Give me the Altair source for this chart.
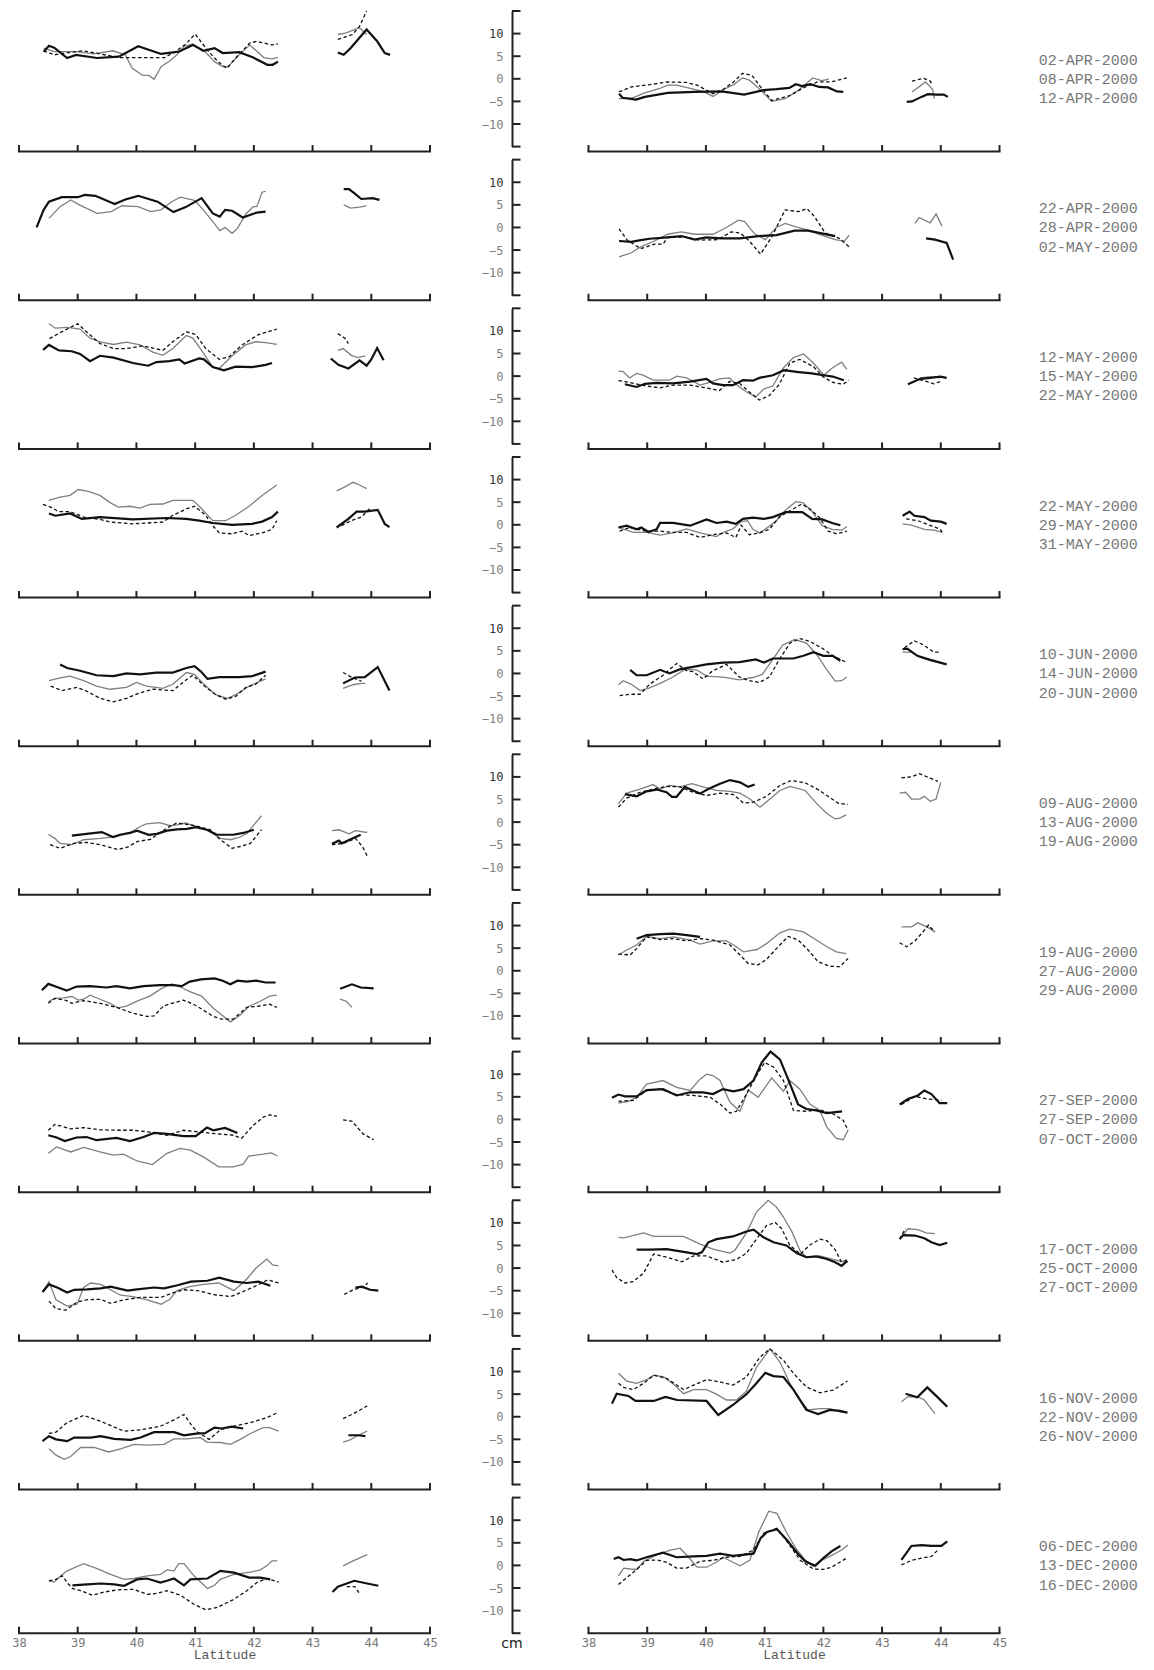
import altair as alt
import pandas as pd

# ------------------------------------------------------------------ data
LAT_TICKS = [38, 39, 40, 41, 42, 43, 44, 45]
CM_TICKS = [-10, -5, 0, 5, 10]
BRACKET_TICKS = [-15, -10, -5, 0, 5, 10, 15]

DATES = [
    ["02-APR-2000", "08-APR-2000", "12-APR-2000"],
    ["22-APR-2000", "28-APR-2000", "02-MAY-2000"],
    ["12-MAY-2000", "15-MAY-2000", "22-MAY-2000"],
    ["22-MAY-2000", "29-MAY-2000", "31-MAY-2000"],
    ["10-JUN-2000", "14-JUN-2000", "20-JUN-2000"],
    ["09-AUG-2000", "13-AUG-2000", "19-AUG-2000"],
    ["19-AUG-2000", "27-AUG-2000", "29-AUG-2000"],
    ["27-SEP-2000", "27-SEP-2000", "07-OCT-2000"],
    ["17-OCT-2000", "25-OCT-2000", "27-OCT-2000"],
    ["16-NOV-2000", "22-NOV-2000", "26-NOV-2000"],
    ["06-DEC-2000", "13-DEC-2000", "16-DEC-2000"],
]

# (latitude, cm) pairs; blk = thick black, gry = grey, dsh = dashed; _e = northern segment
# ---- row 1
r01L_blk = [(38.42,6.0),(38.51,7.3),(38.6,6.9),(38.82,4.6),(38.97,5.3),(39.33,4.6),(39.7,4.9),(40.03,7.2),(40.42,5.5),(40.72,6.0),(40.96,7.5),(41.14,6.2),(41.33,6.8),(41.47,5.7),(41.75,5.9),(41.99,4.7),(42.23,3.1),(42.32,3.1),(42.41,3.8)]
r01L_blk_e = [(43.43,5.8),(43.53,5.3),(43.65,6.8),(43.92,10.9),(44.1,8.3),(44.23,5.7),(44.32,5.3)]
r01L_gry = [(38.42,6.8),(38.6,6.0),(38.97,6.0),(39.27,5.5),(39.6,6.2),(39.81,5.3),(39.93,2.3),(40.1,0.8),(40.22,0.7),(40.3,-0.1),(40.42,2.7),(40.57,4.0),(40.69,5.3),(40.81,7.2),(40.96,7.7),(41.17,6.0),(41.33,3.8),(41.47,2.7),(41.56,2.7),(41.75,5.3),(41.93,7.5),(42.17,4.7),(42.3,4.4),(42.41,4.7)]
r01L_gry_e = [(43.43,9.8),(43.56,10.1),(43.8,11.3),(43.92,9.8)]
r01L_dsh = [(38.42,6.2),(38.6,5.3),(38.79,5.7),(39.09,6.2),(39.39,5.5),(39.69,4.7),(40.1,4.7),(40.48,4.7),(40.66,6.0),(40.84,7.7),(41.0,9.9),(41.23,6.0),(41.39,3.8),(41.54,2.3),(41.69,4.6),(41.93,7.9),(42.05,8.3),(42.3,7.5),(42.41,7.7)]
r01L_dsh_e = [(43.43,8.7),(43.68,9.8),(43.8,11.6),(43.92,15.0)]
r01R_blk = [(38.52,-3.3),(38.58,-4.2),(38.81,-4.6),(38.96,-4.0),(39.35,-3.1),(39.81,-2.9),(40.27,-2.8),(40.65,-3.5),(40.98,-2.5),(41.2,-2.3),(41.42,-2.0),(41.53,-1.2),(41.64,-1.6),(41.78,-1.2),(41.93,-1.8),(42.08,-1.9),(42.23,-2.8),(42.34,-2.9)]
r01R_blk_e = [(43.42,-5.1),(43.51,-5.0),(43.67,-4.0),(43.78,-3.4),(43.93,-3.5),(44.05,-3.5),(44.12,-4.0)]
r01R_gry = [(38.52,-4.4),(38.73,-4.3),(38.96,-3.1),(39.2,-2.2),(39.35,-1.4),(39.5,-1.4),(39.7,-2.0),(39.97,-2.9),(40.12,-3.9),(40.31,-2.3),(40.47,-1.3),(40.62,0.2),(40.74,-0.3),(40.89,-2.0),(41.12,-5.0),(41.35,-4.4),(41.58,-2.5),(41.82,0.2),(41.97,-0.4),(42.09,-0.1)]
r01R_gry_e = [(43.51,-2.9),(43.74,-0.7),(43.86,-2.3),(43.89,-4.4)]
r01R_dsh = [(38.52,-2.9),(38.73,-1.8),(39.04,-1.3),(39.35,-0.7),(39.66,-0.8),(39.85,-1.4),(40.12,-3.3),(40.31,-2.2),(40.47,-0.7),(40.62,1.2),(40.78,0.8),(40.93,-1.8),(41.12,-4.8),(41.43,-3.7),(41.66,-2.0),(41.9,-0.7),(42.13,-0.7),(42.4,0.2)]
r01R_dsh_e = [(43.51,-0.5),(43.71,0.1),(43.82,-0.5),(43.86,-1.4)]
# ---- row 2
r02L_blk = [(38.3,0.0),(38.42,3.9),(38.51,5.7),(38.73,6.7),(39.0,6.7),(39.12,7.2),(39.3,7.0),(39.63,5.2),(39.81,6.2),(40.03,7.0),(40.36,5.7),(40.63,3.4),(40.84,4.5),(41.11,6.5),(41.3,3.1),(41.42,2.4),(41.51,3.9),(41.63,3.7),(41.81,2.2),(42.05,3.3),(42.2,3.5)]
r02L_blk_e = [(43.53,8.5),(43.62,8.5),(43.71,7.6),(43.83,6.3),(44.02,6.5),(44.14,6.1)]
r02L_gry = [(38.51,2.0),(38.7,4.6),(38.88,6.1),(39.03,5.0),(39.33,3.1),(39.57,3.5),(39.75,4.8),(40.03,4.6),(40.24,3.5),(40.42,3.9),(40.6,5.7),(40.75,6.7),(40.99,6.0),(41.14,3.9),(41.3,1.3),(41.42,-0.7),(41.51,0.0),(41.63,-1.3),(41.72,-0.2),(41.87,3.1),(41.99,4.6),(42.05,4.6),(42.14,7.8),(42.2,8.0)]
r02L_gry_e = [(43.53,5.0),(43.65,4.3),(43.8,4.5),(43.92,4.8)]
r02L_dsh = []
r02L_dsh_e = []
r02R_blk = [(38.52,-3.0),(38.73,-3.2),(38.89,-2.8),(39.04,-2.5),(39.35,-2.2),(39.58,-1.9),(39.81,-2.7),(40.0,-2.2),(40.27,-2.4),(40.58,-2.4),(40.89,-1.9),(41.2,-1.7),(41.51,-0.7),(41.74,-0.7),(41.97,-1.3),(42.2,-1.9)]
r02R_blk_e = [(43.75,-2.4),(43.9,-2.7),(44.1,-3.4),(44.21,-7.1)]
r02R_gry = [(38.52,-6.5),(38.73,-5.6),(38.89,-4.3),(39.12,-3.0),(39.35,-1.5),(39.58,-1.0),(39.81,-1.5),(40.12,-1.5),(40.35,0.0),(40.55,1.6),(40.66,1.3),(40.82,-1.3),(41.01,-2.7),(41.2,0.0),(41.35,0.9),(41.55,0.1),(41.74,-0.6),(41.97,-1.7),(42.2,-2.7),(42.36,-3.0),(42.44,-1.7)]
r02R_gry_e = [(43.56,0.9),(43.63,2.2),(43.82,1.0),(43.92,3.0),(44.02,0.3)]
r02R_dsh = [(38.52,-0.3),(38.66,-2.8),(38.89,-4.7),(39.12,-3.7),(39.27,-3.7),(39.35,-2.1),(39.66,-2.2),(39.89,-2.8),(40.2,-2.7),(40.43,-1.0),(40.58,-1.2),(40.74,-3.0),(40.93,-5.9),(41.12,-2.1),(41.35,3.9),(41.58,3.5),(41.72,4.2),(41.85,2.4),(42.03,-1.2),(42.27,-2.4),(42.44,-4.3)]
r02R_dsh_e = []
# ---- row 3
r03L_blk = [(38.41,5.8),(38.51,6.9),(38.68,5.7),(38.9,5.5),(39.04,4.9),(39.21,3.3),(39.38,4.5),(39.61,4.1),(39.94,2.9),(40.2,2.3),(40.34,3.1),(40.56,3.3),(40.73,3.7),(40.82,2.8),(41.07,3.9),(41.15,3.7),(41.3,2.0),(41.49,1.3),(41.69,2.1),(41.97,2.0),(42.2,2.5),(42.31,2.9)]
r03L_blk_e = [(43.31,3.9),(43.44,2.5),(43.61,1.7),(43.8,3.5),(43.92,2.3),(44.0,3.7),(44.1,6.2),(44.21,3.5)]
r03L_gry = [(38.51,11.6),(38.62,10.6),(38.82,10.8),(39.04,10.4),(39.21,8.4),(39.38,7.6),(39.61,7.0),(39.83,7.5),(40.06,6.9),(40.28,5.3),(40.45,4.6),(40.62,6.1),(40.85,9.0),(40.96,8.4),(41.13,5.3),(41.3,2.0),(41.41,1.7),(41.63,4.5),(41.86,6.9),(42.03,7.6),(42.2,7.4),(42.39,7.0)]
r03L_gry_e = [(43.43,5.7),(43.52,6.1),(43.66,4.6),(43.77,4.1),(43.9,4.5)]
r03L_dsh = [(38.52,8.3),(38.7,9.6),(39.0,11.6),(39.15,9.8),(39.38,7.2),(39.61,6.1),(39.83,6.1),(40.11,6.7),(40.45,5.7),(40.62,7.6),(40.85,9.8),(41.01,9.2),(41.18,6.1),(41.41,3.7),(41.58,4.3),(41.8,6.9),(42.08,9.2),(42.39,10.4)]
r03L_dsh_e = [(43.43,9.4),(43.55,8.4),(43.61,7.2)]
r03R_blk = [(38.62,-1.8),(38.82,-2.4),(38.96,-1.7),(39.16,-1.5),(39.44,-1.6),(39.73,-1.2),(40.01,-0.6),(40.12,-1.6),(40.29,-2.0),(40.46,-2.0),(40.63,-0.9),(40.8,-1.0),(40.91,-0.4),(41.14,0.2),(41.33,1.3),(41.58,0.9),(41.8,0.6),(42.0,0.2),(42.16,-0.1),(42.35,-0.9)]
r03R_blk_e = [(43.44,-1.8),(43.65,-0.6),(43.82,-0.4),(43.99,-0.1),(44.1,-0.4)]
r03R_gry = [(38.51,1.1),(38.59,1.0),(38.7,-0.4),(38.82,0.6),(38.93,0.2),(39.1,-0.9),(39.22,-0.9),(39.38,-0.9),(39.5,0.0),(39.67,-0.4),(39.9,-2.0),(40.06,-1.4),(40.23,-0.6),(40.4,-0.4),(40.51,-1.8),(40.68,-3.4),(40.85,-4.6),(40.99,-2.8),(41.14,-2.2),(41.31,1.7),(41.49,4.1),(41.66,4.9),(41.83,2.9),(42.01,0.2),(42.14,1.7),(42.31,3.1),(42.4,1.5)]
r03R_gry_e = [(43.65,-0.4),(43.82,-0.1),(43.99,-0.4)]
r03R_dsh = [(38.51,-1.0),(38.7,-1.4),(38.99,-2.2),(39.22,-2.6),(39.44,-2.0),(39.73,-2.0),(40.01,-2.6),(40.23,-3.2),(40.4,-1.2),(40.57,-1.6),(40.74,-3.5),(40.91,-5.3),(41.08,-4.3),(41.25,-1.8),(41.43,2.9),(41.6,3.7),(41.83,2.1),(41.99,-0.1),(42.16,-1.4),(42.34,-1.8),(42.43,-0.9)]
r03R_dsh_e = [(43.54,-0.4),(43.71,-1.0),(43.88,-1.7),(43.99,-1.2)]
# ---- row 4
r04L_blk = [(38.51,2.5),(38.62,2.0),(38.87,2.5),(39.07,1.3),(39.38,1.7),(39.94,1.2),(40.51,1.5),(40.85,1.3),(41.07,0.9),(41.3,0.4),(41.63,0.0),(41.97,0.2),(42.14,0.7),(42.31,1.7),(42.41,2.9)]
r04L_blk_e = [(43.41,-0.6),(43.61,1.3),(43.75,2.9),(43.89,2.9),(44.11,3.3),(44.23,0.2),(44.31,-0.5)]
r04L_gry = [(38.51,5.4),(38.7,6.1),(38.87,6.5),(39.01,7.8),(39.18,7.4),(39.38,6.5),(39.55,4.9),(39.69,3.9),(39.89,4.1),(40.06,3.7),(40.23,4.5),(40.45,4.6),(40.62,5.4),(40.96,5.4),(41.07,4.1),(41.3,0.9),(41.52,0.9),(41.69,2.1),(41.92,4.1),(42.14,6.5),(42.39,8.8)]
r04L_gry_e = [(43.41,7.5),(43.55,8.4),(43.69,9.4),(43.8,8.8),(43.92,8.0)]
r04L_dsh = [(38.41,4.5),(38.54,3.9),(38.68,2.9),(38.87,2.9),(39.1,1.7),(39.38,1.2),(39.55,0.6),(39.94,0.2),(40.45,0.6),(40.62,2.1),(40.85,3.5),(40.99,4.1),(41.18,2.1),(41.3,-0.2),(41.41,-1.8),(41.63,-2.0),(41.8,-1.4),(41.92,-2.4),(42.14,-1.8),(42.31,-1.0),(42.39,0.9)]
r04L_dsh_e = [(43.49,-0.2),(43.66,0.9),(43.83,1.7),(44.0,3.9)]
r04R_blk = [(38.51,-0.6),(38.65,-0.2),(38.82,-1.0),(38.9,-0.6),(39.02,-1.6),(39.16,-1.0),(39.22,0.4),(39.44,0.4),(39.73,-0.2),(40.01,1.2),(40.18,0.4),(40.35,0.7),(40.51,0.2),(40.63,1.3),(40.8,1.6),(40.99,1.3),(41.14,1.7),(41.36,2.8),(41.64,2.8),(41.81,1.3),(41.98,1.2),(42.15,0.4),(42.29,-0.1)]
r04R_blk_e = [(43.35,2.0),(43.47,2.9),(43.55,2.0),(43.72,1.7),(43.83,0.9),(44.0,0.7),(44.1,0.2)]
r04R_gry = [(38.51,-0.6),(38.76,-1.7),(38.99,-1.7),(39.22,-2.3),(39.44,-1.8),(39.67,-0.9),(39.9,-1.8),(40.18,-2.6),(40.29,-1.7),(40.46,-0.9),(40.6,0.7),(40.71,0.9),(40.8,-1.0),(40.91,-1.8),(41.02,-0.9),(41.2,0.9),(41.36,3.3),(41.53,5.1),(41.65,4.9),(41.81,2.9),(41.98,-0.2),(42.15,-1.0),(42.32,-1.2),(42.4,-0.4)]
r04R_gry_e = [(43.35,0.2),(43.5,-0.1),(43.72,-1.0),(43.88,-1.2),(44.02,-1.6)]
r04R_dsh = [(38.53,-1.4),(38.7,-0.6),(38.99,-1.4),(39.22,-1.4),(39.44,-1.7),(39.67,-1.7),(39.9,-2.8),(40.12,-2.2),(40.35,-1.8),(40.51,-2.8),(40.6,-0.1),(40.74,-2.2),(40.91,-1.8),(41.08,-1.0),(41.25,1.7),(41.43,3.1),(41.63,4.6),(41.77,3.5),(41.94,1.5),(42.08,-1.4),(42.23,-2.0),(42.4,-1.4)]
r04R_dsh_e = [(43.41,1.3),(43.61,0.9),(43.83,-0.2),(43.99,-1.0),(44.05,-2.2)]
# ---- row 5
r05L_blk = [(38.7,2.0),(38.82,1.2),(39.04,0.6),(39.32,-0.4),(39.61,-0.6),(39.83,0.0),(40.06,-0.2),(40.34,0.2),(40.62,0.2),(40.85,1.2),(40.99,1.6),(41.1,0.4),(41.21,-1.2),(41.41,-0.8),(41.75,-0.8),(41.97,-0.6),(42.2,0.4)]
r05L_blk_e = [(43.52,-2.2),(43.72,-0.9),(43.89,-0.8),(44.11,1.4),(44.31,-3.8)]
r05L_gry = [(38.51,-1.6),(38.7,-1.0),(38.87,-0.6),(39.1,-1.6),(39.32,-2.8),(39.55,-3.5),(39.83,-3.1),(40.0,-2.0),(40.17,-2.8),(40.45,-3.3),(40.62,-2.4),(40.85,0.2),(40.99,-0.2),(41.18,-2.8),(41.35,-4.7),(41.55,-5.5),(41.69,-4.7),(41.92,-2.8),(42.2,-1.2)]
r05L_gry_e = [(43.52,-3.3),(43.69,-2.5),(43.83,-2.2),(43.9,-2.2)]
r05L_dsh = [(38.54,-2.8),(38.73,-3.8),(38.99,-3.1),(39.15,-3.9),(39.38,-5.5),(39.61,-6.3),(39.83,-5.5),(40.06,-4.3),(40.28,-3.5),(40.62,-3.8),(40.85,-1.4),(40.96,-0.4),(41.18,-3.0),(41.35,-4.7),(41.52,-5.7),(41.69,-5.1),(41.86,-3.1),(42.03,-2.4),(42.2,-0.4)]
r05L_dsh_e = [(43.52,0.2),(43.66,-0.8),(43.83,-1.7)]
r05R_blk = [(38.71,0.8),(38.82,-0.4),(38.99,-0.4),(39.22,0.8),(39.38,0.0),(39.55,0.9),(40.01,2.0),(40.29,2.4),(40.57,2.5),(40.85,3.1),(40.99,2.4),(41.14,3.3),(41.49,3.3),(41.66,3.9),(41.83,4.7),(42.0,3.9),(42.16,3.9),(42.29,2.8)]
r05R_blk_e = [(43.35,5.4),(43.43,5.5),(43.6,3.9),(43.82,3.0),(43.99,2.4),(44.1,2.0)]
r05R_gry = [(38.51,-2.5),(38.59,-1.6),(38.73,-2.4),(38.88,-3.8),(39.02,-3.3),(39.22,-2.2),(39.44,-0.8),(39.64,0.9),(39.84,0.8),(40.01,-0.6),(40.29,-0.8),(40.57,-1.4),(40.8,-0.9),(40.96,-0.2),(41.14,3.1),(41.31,6.3),(41.51,7.5),(41.71,6.7),(41.88,4.3),(42.04,1.2),(42.2,-1.7),(42.31,-1.6),(42.4,-0.8)]
r05R_gry_e = [(43.35,4.7),(43.5,4.7),(43.67,3.5),(43.84,2.8),(43.99,2.4)]
r05R_dsh = [(38.53,-4.9),(38.7,-4.6),(38.88,-4.6),(39.04,-2.4),(39.27,-0.4),(39.5,2.2),(39.67,0.6),(39.78,0.4),(39.95,-1.2),(40.12,0.6),(40.35,2.0),(40.57,-0.8),(40.74,-1.6),(40.91,-2.0),(41.08,-0.8),(41.25,3.1),(41.43,6.7),(41.6,7.7),(41.77,7.1),(41.99,5.5),(42.16,3.9),(42.4,2.4)]
r05R_dsh_e = [(43.38,5.7),(43.55,7.2),(43.71,6.3),(43.88,4.7),(43.99,4.7)]
# ---- row 6
r06L_blk = [(38.9,-3.0),(39.15,-2.6),(39.41,-2.2),(39.6,-3.3),(39.72,-2.8),(39.89,-2.4),(40.01,-1.9),(40.21,-2.8),(40.35,-2.6),(40.52,-1.9),(40.69,-1.6),(40.86,-1.5),(41.01,-1.1),(41.2,-1.7),(41.37,-2.8),(41.65,-2.8),(41.82,-2.4),(42.0,-1.7)]
r06L_blk_e = [(43.33,-4.8),(43.45,-4.1),(43.5,-4.7),(43.65,-3.8),(43.82,-2.8)]
r06L_gry = [(38.5,-2.7),(38.61,-3.6),(38.7,-4.7),(38.9,-5.0),(39.1,-3.9),(39.38,-3.6),(39.66,-3.2),(39.89,-2.3),(40.09,-0.8),(40.17,-0.4),(40.4,-0.1),(40.57,-0.8),(40.69,-0.6),(40.83,-0.2),(41.03,-1.0),(41.2,-1.7),(41.43,-3.6),(41.6,-3.9),(41.77,-3.3),(41.89,-2.4),(42.0,-0.6),(42.13,1.4)]
r06L_gry_e = [(43.33,-1.9),(43.45,-1.7),(43.62,-2.6),(43.73,-1.9),(43.93,-2.3)]
r06L_dsh = [(38.53,-5.0),(38.7,-5.8),(38.93,-4.7),(39.15,-4.5),(39.38,-5.0),(39.55,-5.6),(39.69,-6.1),(39.87,-5.4),(40.01,-4.3),(40.24,-3.8),(40.35,-2.8),(40.52,-1.3),(40.69,-0.2),(40.92,-0.6),(41.09,-1.1),(41.26,-1.7),(41.43,-3.9),(41.63,-5.8),(41.77,-5.4),(41.94,-4.7),(42.13,-1.7)]
r06L_dsh_e = [(43.33,-5.0),(43.53,-4.7),(43.73,-3.6),(43.85,-5.4),(43.93,-7.5)]
r06R_blk = [(38.62,6.2),(38.82,5.7),(38.99,6.8),(39.16,7.2),(39.33,6.6),(39.42,5.6),(39.5,5.6),(39.64,7.8),(39.78,7.0),(39.9,6.3),(40.04,7.3),(40.24,8.5),(40.41,9.3),(40.58,8.8),(40.72,7.8),(40.83,8.3)]
r06R_blk_e = []
r06R_gry = [(38.51,4.1),(38.65,6.4),(38.88,7.3),(39.1,8.3),(39.22,7.3),(39.39,8.1),(39.56,7.8),(39.76,8.5),(39.95,7.8),(40.18,7.0),(40.41,6.8),(40.58,6.4),(40.75,5.1),(40.92,3.3),(41.09,5.1),(41.26,7.0),(41.43,7.9),(41.69,7.0),(41.88,4.2),(42.06,1.9),(42.2,0.7),(42.28,0.9),(42.39,1.6)]
r06R_gry_e = [(43.3,6.4),(43.4,6.6),(43.5,5.1),(43.64,5.1),(43.72,5.7),(43.82,4.6),(43.92,5.1),(44.0,8.8)]
r06R_dsh = [(38.51,3.3),(38.65,5.3),(38.88,6.6),(39.1,7.3),(39.33,7.9),(39.56,7.8),(39.78,6.6),(40.01,5.9),(40.24,6.4),(40.47,6.1),(40.64,4.2),(40.81,4.4),(41.03,5.7),(41.26,8.1),(41.45,9.2),(41.69,8.7),(41.91,7.2),(42.08,5.7),(42.25,4.2),(42.42,3.9)]
r06R_dsh_e = [(43.33,9.8),(43.5,10.0),(43.64,10.7),(43.84,9.6),(43.95,9.0)]
# ---- row 7
r07L_blk = [(38.39,-4.3),(38.5,-2.9),(38.67,-3.7),(38.81,-4.4),(38.98,-3.5),(39.21,-3.4),(39.49,-3.7),(39.66,-3.4),(39.89,-3.9),(40.12,-3.4),(40.4,-3.2),(40.63,-3.2),(40.77,-3.4),(40.91,-2.4),(41.1,-1.9),(41.33,-1.7),(41.47,-2.2),(41.6,-3.0),(41.72,-2.2),(41.88,-2.4),(42.04,-2.2),(42.2,-2.6),(42.37,-2.6)]
r07L_blk_e = [(43.47,-4.0),(43.67,-3.0),(43.82,-3.7),(44.04,-3.9)]
r07L_gry = [(38.5,-6.8),(38.61,-6.1),(38.76,-6.0),(38.9,-5.7),(39.01,-6.5),(39.1,-6.3),(39.21,-5.4),(39.38,-6.3),(39.55,-7.2),(39.69,-8.2),(39.83,-7.8),(40.03,-6.6),(40.23,-5.6),(40.43,-3.9),(40.6,-2.9),(40.77,-3.7),(40.91,-4.6),(41.11,-5.6),(41.31,-8.3),(41.6,-11.3),(41.77,-9.8),(41.91,-7.9),(42.1,-6.8),(42.27,-5.6),(42.39,-5.4)]
r07L_gry_e = [(43.47,-6.3),(43.58,-6.8),(43.67,-8.1)]
r07L_dsh = [(38.5,-7.2),(38.61,-6.1),(38.81,-6.6),(38.9,-7.2),(39.1,-6.6),(39.38,-7.2),(39.66,-8.1),(39.94,-9.4),(40.18,-10.1),(40.3,-10.0),(40.46,-7.8),(40.63,-7.1),(40.8,-6.5),(40.97,-7.4),(41.14,-8.7),(41.31,-10.1),(41.45,-10.7),(41.65,-10.7),(41.88,-8.1),(42.1,-7.8),(42.27,-7.4),(42.39,-8.1)]
r07L_dsh_e = []
r07R_blk = [(38.82,7.1),(38.99,7.9),(39.22,8.1),(39.45,8.2),(39.67,7.9),(39.9,7.5)]
r07R_blk_e = []
r07R_gry = [(38.51,3.5),(38.65,4.6),(38.82,5.7),(38.99,7.6),(39.22,7.1),(39.45,7.5),(39.73,6.8),(39.9,5.9),(40.12,6.6),(40.35,6.6),(40.47,5.7),(40.64,4.2),(40.87,4.7),(41.03,6.0),(41.26,8.4),(41.43,9.2),(41.66,8.6),(41.88,6.8),(42.06,5.3),(42.22,4.2),(42.39,3.8)]
r07R_gry_e = [(43.33,9.7),(43.5,9.7),(43.61,10.6),(43.78,9.6),(43.9,8.6)]
r07R_dsh = [(38.51,3.7),(38.71,3.5),(38.82,4.9),(38.99,7.5),(39.22,6.9),(39.45,7.1),(39.67,6.6),(39.9,7.1),(40.12,6.8),(40.41,5.7),(40.58,3.5),(40.72,1.6),(40.89,1.3),(41.03,2.5),(41.2,4.9),(41.4,7.6),(41.57,6.8),(41.74,4.6),(41.91,2.0),(42.11,1.0),(42.28,0.9),(42.42,2.7)]
r07R_dsh_e = [(43.3,6.2),(43.42,5.3),(43.56,6.6),(43.71,8.8),(43.79,10.1),(43.9,8.6)]
# ---- row 8
r08L_blk = [(38.5,-3.5),(38.64,-4.0),(38.78,-4.8),(38.98,-4.0),(39.15,-3.9),(39.32,-4.6),(39.66,-4.1),(39.89,-4.8),(40.12,-3.9),(40.3,-3.0),(40.52,-3.2),(40.8,-3.7),(41.01,-3.7),(41.2,-1.8),(41.31,-2.4),(41.51,-1.9),(41.72,-3.0)]
r08L_blk_e = []
r08L_gry = [(38.5,-7.5),(38.64,-6.1),(38.88,-7.2),(39.1,-6.2),(39.38,-7.2),(39.61,-7.9),(39.78,-7.7),(40.01,-9.2),(40.27,-10.0),(40.52,-7.5),(40.74,-6.4),(40.92,-6.8),(41.14,-8.3),(41.4,-10.5),(41.65,-10.5),(41.82,-9.9),(41.91,-8.1),(42.16,-7.7),(42.3,-7.4),(42.4,-8.1)]
r08L_gry_e = []
r08L_dsh = [(38.5,-2.4),(38.61,-1.1),(38.88,-2.1),(39.1,-1.8),(39.38,-2.3),(39.66,-2.4),(39.94,-2.4),(40.23,-2.8),(40.52,-3.5),(40.8,-2.4),(41.09,-2.8),(41.37,-3.2),(41.65,-3.5),(41.79,-4.2),(41.99,-1.3),(42.16,0.5),(42.27,1.0),(42.39,0.7)]
r08L_dsh_e = [(43.52,-0.1),(43.67,-0.4),(43.86,-3.2),(44.04,-4.5)]
r08R_blk = [(38.4,4.8),(38.51,5.5),(38.62,5.1),(38.82,5.1),(38.99,6.5),(39.27,6.7),(39.5,5.3),(39.73,6.0),(39.95,6.0),(40.12,5.6),(40.29,6.7),(40.47,6.2),(40.64,6.7),(40.81,8.6),(40.95,12.6),(41.1,15.0),(41.26,13.3),(41.4,8.9),(41.57,3.3),(41.71,2.3),(41.88,2.0),(42.06,1.4),(42.32,1.8)]
r08R_blk_e = [(43.3,3.3),(43.44,4.5),(43.61,5.3),(43.72,6.4),(43.84,5.6),(43.98,3.6),(44.11,3.6)]
r08R_gry = [(38.51,3.6),(38.68,4.0),(38.82,4.9),(38.99,7.8),(39.27,8.6),(39.5,7.1),(39.73,6.4),(39.9,8.9),(40.01,10.0),(40.12,9.7),(40.24,8.6),(40.41,3.8),(40.58,1.8),(40.72,6.5),(40.89,4.9),(41.12,9.2),(41.32,6.2),(41.43,8.6),(41.6,6.7),(41.77,3.4),(41.94,2.0),(42.06,-1.7),(42.22,-4.2),(42.34,-4.5),(42.42,-2.4)]
r08R_gry_e = []
r08R_dsh = [(38.51,4.0),(38.76,4.2),(38.99,6.4),(39.22,6.7),(39.5,5.5),(39.78,5.3),(40.07,4.9),(40.24,3.4),(40.41,1.4),(40.52,1.8),(40.69,5.6),(40.86,9.7),(41.0,12.6),(41.15,11.6),(41.32,8.6),(41.49,2.0),(41.71,1.8),(41.94,2.1),(42.17,1.2),(42.34,-0.2),(42.42,-2.4)]
r08R_dsh_e = [(43.33,3.3),(43.56,5.1),(43.78,4.5),(44.01,4.3)]
# ---- row 9
r09L_blk = [(38.4,-5.3),(38.51,-3.6),(38.65,-4.3),(38.82,-5.4),(38.94,-4.8),(39.16,-4.7),(39.39,-4.5),(39.56,-4.1),(39.85,-5.0),(40.01,-4.7),(40.3,-4.3),(40.47,-4.5),(40.7,-3.8),(40.93,-3.0),(41.21,-2.8),(41.41,-2.1),(41.66,-3.0),(41.88,-3.3),(42.08,-3.0),(42.28,-3.9)]
r09L_blk_e = [(43.73,-4.3),(43.84,-4.1),(43.98,-4.8),(44.12,-5.0)]
r09L_gry = [(38.43,-4.7),(38.51,-3.0),(38.63,-7.0),(38.82,-8.4),(38.99,-8.0),(39.1,-4.3),(39.22,-3.3),(39.39,-3.6),(39.73,-6.0),(39.94,-6.3),(40.17,-7.0),(40.42,-8.0),(40.57,-6.9),(40.69,-5.0),(40.91,-4.1),(41.14,-3.6),(41.4,-3.3),(41.66,-5.0),(41.88,-2.4),(42.03,-0.1),(42.22,2.0),(42.32,0.7),(42.42,0.5)]
r09L_gry_e = []
r09L_dsh = [(38.51,-7.3),(38.63,-9.0),(38.8,-9.3),(38.99,-7.5),(39.16,-7.0),(39.39,-6.9),(39.56,-7.8),(39.79,-7.0),(40.07,-6.5),(40.41,-6.5),(40.64,-5.4),(40.81,-4.8),(41.05,-5.0),(41.33,-5.9),(41.61,-6.3),(41.78,-5.4),(42.01,-4.1),(42.24,-2.6),(42.42,-3.3)]
r09L_dsh_e = [(43.54,-5.8),(43.71,-4.7),(43.85,-4.3),(43.94,-3.3)]
r09R_blk = [(38.82,4.1),(39.05,4.1),(39.33,4.2),(39.62,3.6),(39.85,3.1),(39.93,3.5),(40.04,5.7),(40.18,6.4),(40.46,7.0),(40.69,8.1),(40.81,8.5),(40.98,6.8),(41.15,5.7),(41.37,5.0),(41.55,3.3),(41.71,2.4),(41.88,2.6),(42.06,2.0),(42.2,1.3),(42.31,0.5),(42.41,1.6)]
r09R_blk_e = [(43.3,6.4),(43.36,7.3),(43.56,7.2),(43.72,6.6),(43.84,5.7),(43.98,5.1),(44.11,5.6)]
r09R_gry = [(38.51,6.8),(38.6,6.7),(38.94,7.8),(39.11,7.0),(39.33,7.0),(39.62,7.0),(39.9,5.3),(40.12,4.2),(40.41,3.3),(40.49,3.9),(40.69,7.8),(40.86,12.4),(41.06,15.0),(41.2,13.5),(41.32,11.3),(41.47,7.9),(41.61,3.6),(41.72,2.4),(41.94,2.7),(42.16,1.9),(42.33,1.4),(42.41,1.3)]
r09R_gry_e = [(43.33,6.8),(43.44,8.7),(43.61,8.5),(43.75,7.8),(43.9,7.6)]
r09R_dsh = [(38.4,-0.4),(38.48,-2.1),(38.62,-3.3),(38.76,-3.0),(38.94,-1.1),(39.11,3.1),(39.33,2.4),(39.59,1.4),(39.79,2.7),(40.01,2.7),(40.29,1.3),(40.52,1.9),(40.69,3.3),(40.86,6.4),(41.03,9.4),(41.18,10.1),(41.29,8.7),(41.43,5.0),(41.61,3.1),(41.77,5.1),(41.94,6.4),(42.06,6.1),(42.2,4.1),(42.31,1.3),(42.41,1.9)]
r09R_dsh_e = [(43.3,6.4),(43.4,8.8)]
# ---- row 10
r10L_blk = [(38.4,-5.4),(38.51,-4.3),(38.63,-5.0),(38.82,-5.4),(38.94,-4.6),(39.22,-4.6),(39.39,-4.3),(39.62,-4.9),(39.9,-5.1),(40.07,-4.6),(40.3,-3.4),(40.64,-3.4),(40.81,-4.1),(41.05,-3.7),(41.16,-3.7),(41.33,-2.4),(41.45,-2.6),(41.62,-2.2),(41.82,-2.6)]
r10L_blk_e = [(43.61,-4.1),(43.78,-4.1),(43.9,-4.3)]
r10L_gry = [(38.51,-7.1),(38.63,-8.5),(38.77,-9.4),(38.88,-8.8),(39.05,-6.8),(39.28,-6.8),(39.53,-7.8),(39.73,-7.1),(39.96,-6.1),(40.18,-6.3),(40.47,-6.1),(40.64,-4.9),(40.86,-4.9),(41.09,-4.6),(41.2,-5.6),(41.43,-5.7),(41.6,-6.1),(41.77,-5.0),(41.94,-3.7),(42.16,-2.4),(42.27,-2.4),(42.42,-3.2)]
r10L_gry_e = [(43.52,-5.6),(43.64,-5.1),(43.78,-4.1),(43.93,-3.2)]
r10L_dsh = [(38.51,-3.7),(38.63,-3.4),(38.82,-1.3),(39.1,0.3),(39.39,-1.0),(39.79,-3.2),(40.07,-2.9),(40.41,-2.1),(40.64,-0.7),(40.81,0.5),(40.95,-2.1),(41.05,-3.5),(41.24,-5.0),(41.44,-2.8),(41.66,-2.1),(41.94,-1.3),(42.22,-0.2),(42.42,1.0)]
r10L_dsh_e = [(43.52,-0.4),(43.7,0.7),(43.93,2.4)]
r10R_blk = [(38.4,2.9),(38.48,5.1),(38.68,4.6),(38.8,3.5),(39.11,3.5),(39.31,4.4),(39.51,3.7),(40.01,3.5),(40.21,0.4),(40.46,2.6),(40.69,5.0),(40.86,7.4),(41.01,9.7),(41.15,9.0),(41.32,8.8),(41.49,6.0),(41.71,1.5),(41.91,0.6),(42.11,1.5),(42.28,1.3),(42.41,0.9)]
r10R_blk_e = [(43.4,5.1),(43.6,4.3),(43.77,6.5),(43.94,4.4),(44.11,2.2)]
r10R_gry = [(38.51,9.6),(38.65,7.9),(38.82,7.4),(38.99,8.2),(39.11,9.2),(39.28,8.8),(39.45,7.2),(39.62,5.1),(39.79,6.0),(40.01,6.0),(40.18,5.0),(40.35,3.7),(40.52,3.7),(40.69,5.7),(40.86,10.9),(41.09,15.0),(41.26,12.1),(41.43,7.4),(41.6,3.7),(41.74,1.5),(41.94,1.8),(42.11,1.8),(42.28,1.1),(42.41,0.9)]
r10R_gry_e = [(43.33,3.3),(43.44,4.4),(43.61,4.4),(43.72,3.7),(43.81,2.2),(43.9,0.7)]
r10R_dsh = [(38.51,7.4),(38.6,6.5),(38.76,6.0),(38.94,7.4),(39.11,9.2),(39.33,8.5),(39.62,6.0),(39.79,7.0),(40.01,8.2),(40.24,7.7),(40.46,7.0),(40.69,8.8),(40.92,13.2),(41.09,15.0),(41.32,12.5),(41.49,9.6),(41.71,6.6),(41.94,5.3),(42.17,5.9),(42.41,7.9)]
r10R_dsh_e = []
# ---- row 11
r11L_blk = [(38.91,-4.4),(39.16,-4.2),(39.39,-4.0),(39.62,-4.2),(39.79,-4.5),(40.01,-3.1),(40.18,-2.9),(40.41,-3.8),(40.52,-3.4),(40.64,-2.9),(40.81,-4.4),(40.92,-3.1),(41.21,-2.9),(41.43,-1.2),(41.66,-1.6),(41.92,-2.7),(42.11,-2.7),(42.28,-3.1)]
r11L_blk_e = [(43.34,-5.9),(43.43,-4.7),(43.71,-3.4),(43.93,-4.0),(44.12,-4.5)]
r11L_gry = [(38.51,-3.4),(38.6,-3.7),(38.71,-2.3),(38.82,-1.2),(39.1,0.4),(39.33,-0.7),(39.56,-2.0),(39.79,-3.1),(39.96,-2.9),(40.18,-2.3),(40.41,-2.0),(40.52,-1.0),(40.64,-1.2),(40.72,0.4),(40.81,0.4),(40.98,-2.3),(41.21,-5.1),(41.33,-4.4),(41.43,-3.1),(41.66,-2.0),(41.94,-1.5),(42.11,-1.0),(42.22,-0.1),(42.31,1.0),(42.4,1.0)]
r11L_gry_e = [(43.52,-0.1),(43.69,1.0),(43.93,2.4)]
r11L_dsh = [(38.51,-3.4),(38.63,-3.1),(38.74,-2.3),(38.82,-3.8),(38.91,-5.1),(39.05,-5.6),(39.25,-6.6),(39.45,-5.9),(39.68,-5.4),(39.96,-5.3),(40.18,-6.4),(40.35,-6.2),(40.52,-5.6),(40.75,-6.6),(40.98,-8.6),(41.18,-9.8),(41.38,-9.3),(41.66,-7.5),(41.88,-5.6),(42.05,-3.8),(42.22,-2.9),(42.42,-3.7)]
r11L_dsh_e = [(43.58,-4.7),(43.72,-4.7),(43.81,-6.4)]
r11R_blk = [(38.43,1.4),(38.51,1.8),(38.6,1.2),(38.71,1.4),(38.82,1.1),(38.99,1.8),(39.27,2.8),(39.5,1.8),(39.79,2.0),(40.01,2.1),(40.24,2.6),(40.46,2.1),(40.81,2.6),(40.93,6.0),(41.04,7.4),(41.21,8.0),(41.38,5.6),(41.55,2.8),(41.69,0.9),(41.86,-0.1),(42.0,1.6),(42.14,3.1),(42.29,4.3)]
r11R_blk_e = [(43.33,1.2),(43.5,4.3),(43.67,4.5),(43.84,4.3),(44.01,4.3),(44.11,5.3)]
r11R_gry = [(38.51,-2.3),(38.6,-0.6),(38.71,-0.8),(38.82,-0.9),(38.94,0.9),(39.16,2.3),(39.39,3.4),(39.56,3.8),(39.67,2.3),(39.85,-0.4),(40.01,-0.4),(40.18,0.7),(40.29,1.8),(40.46,0.7),(40.58,-0.1),(40.75,1.2),(40.9,7.4),(41.07,12.0),(41.21,11.5),(41.38,7.1),(41.55,3.4),(41.69,1.2),(41.83,-0.1),(41.97,1.1),(42.11,2.0),(42.31,3.4),(42.42,4.5)]
r11R_gry_e = []
r11R_dsh = [(38.51,-4.2),(38.68,-2.4),(38.82,-0.9),(38.99,1.1),(39.16,1.2),(39.33,0.7),(39.5,-0.6),(39.67,-0.6),(39.9,0.9),(40.12,1.1),(40.35,1.8),(40.58,2.0),(40.81,3.4),(40.98,7.1),(41.21,8.2),(41.38,5.3),(41.61,1.1),(41.83,-0.8),(42.0,-0.9),(42.14,-0.4),(42.42,1.8)]
r11R_dsh_e = [(43.33,0.1),(43.5,1.1),(43.67,1.6),(43.84,2.0),(43.95,3.4)]

LEFT = [
    (r01L_blk, r01L_blk_e, r01L_gry, r01L_gry_e, r01L_dsh, r01L_dsh_e),
    (r02L_blk, r02L_blk_e, r02L_gry, r02L_gry_e, r02L_dsh, r02L_dsh_e),
    (r03L_blk, r03L_blk_e, r03L_gry, r03L_gry_e, r03L_dsh, r03L_dsh_e),
    (r04L_blk, r04L_blk_e, r04L_gry, r04L_gry_e, r04L_dsh, r04L_dsh_e),
    (r05L_blk, r05L_blk_e, r05L_gry, r05L_gry_e, r05L_dsh, r05L_dsh_e),
    (r06L_blk, r06L_blk_e, r06L_gry, r06L_gry_e, r06L_dsh, r06L_dsh_e),
    (r07L_blk, r07L_blk_e, r07L_gry, r07L_gry_e, r07L_dsh, r07L_dsh_e),
    (r08L_blk, r08L_blk_e, r08L_gry, r08L_gry_e, r08L_dsh, r08L_dsh_e),
    (r09L_blk, r09L_blk_e, r09L_gry, r09L_gry_e, r09L_dsh, r09L_dsh_e),
    (r10L_blk, r10L_blk_e, r10L_gry, r10L_gry_e, r10L_dsh, r10L_dsh_e),
    (r11L_blk, r11L_blk_e, r11L_gry, r11L_gry_e, r11L_dsh, r11L_dsh_e),
]
RIGHT = [
    (r01R_blk, r01R_blk_e, r01R_gry, r01R_gry_e, r01R_dsh, r01R_dsh_e),
    (r02R_blk, r02R_blk_e, r02R_gry, r02R_gry_e, r02R_dsh, r02R_dsh_e),
    (r03R_blk, r03R_blk_e, r03R_gry, r03R_gry_e, r03R_dsh, r03R_dsh_e),
    (r04R_blk, r04R_blk_e, r04R_gry, r04R_gry_e, r04R_dsh, r04R_dsh_e),
    (r05R_blk, r05R_blk_e, r05R_gry, r05R_gry_e, r05R_dsh, r05R_dsh_e),
    (r06R_blk, r06R_blk_e, r06R_gry, r06R_gry_e, r06R_dsh, r06R_dsh_e),
    (r07R_blk, r07R_blk_e, r07R_gry, r07R_gry_e, r07R_dsh, r07R_dsh_e),
    (r08R_blk, r08R_blk_e, r08R_gry, r08R_gry_e, r08R_dsh, r08R_dsh_e),
    (r09R_blk, r09R_blk_e, r09R_gry, r09R_gry_e, r09R_dsh, r09R_dsh_e),
    (r10R_blk, r10R_blk_e, r10R_gry, r10R_gry_e, r10R_dsh, r10R_dsh_e),
    (r11R_blk, r11R_blk_e, r11R_gry, r11R_gry_e, r11R_dsh, r11R_dsh_e),
]

# ------------------------------------------------------------------ layout / style
W = 411
H = 135.6
PX = H / 30.0
ROW_GAP = 12.66
COL_GAP = 158.5
Y_AXIS_OFFSET = 76.5
AXIS_COLOR = "#222222"
MONO = "DejaVu Sans Mono"
MONO2 = "Liberation Mono"

XSCALE = alt.Scale(domain=[38, 45], nice=False, zero=False)
YSCALE = alt.Scale(domain=[-15, 15], nice=False, zero=False)

STYLES = {
    "gry": dict(color="#7f7f7f", strokeWidth=1.3),
    "dsh": dict(color="#111111", strokeWidth=1.3, strokeDash=[3.5, 2.5]),
    "blk": dict(color="#111111", strokeWidth=2.2),
}


def seg_frame(main, east):
    recs = []
    for i, seg in enumerate([main, east]):
        for lat, v in seg:
            recs.append({"lat": lat, "cm": v, "seg": i})
    return pd.DataFrame(recs, columns=["lat", "cm", "seg"])


def panel(series, side, row_idx):
    last = row_idx == len(LEFT) - 1
    if last:
        xaxis = alt.Axis(values=LAT_TICKS, format="d", domain=False, ticks=False, tickSize=0,
                         grid=False, labelPadding=4, labelFlush=False, labelFont=MONO,
                         labelFontSize=12, labelColor="#777777", title="Latitude",
                         titleFont=MONO2, titleFontSize=13, titleFontWeight="normal",
                         titleColor="#555555", titlePadding=0)
    else:
        xaxis = None
    if side == "R":
        yaxis = alt.Axis(values=CM_TICKS, offset=Y_AXIS_OFFSET, domain=True, domainColor=AXIS_COLOR,
                         domainWidth=2, ticks=False, tickSize=0, grid=False, labelPadding=9,
                         labelFont=MONO, labelFontSize=12,
                         labelColor={"condition": {"test": "datum.value == 10", "value": "#333333"},
                                     "value": "#808080"},
                         title=None)
    else:
        yaxis = None

    blk, blk_e, gry, gry_e, dsh, dsh_e = series
    layers = []
    for key, main, east in (("gry", gry, gry_e), ("dsh", dsh, dsh_e), ("blk", blk, blk_e)):
        df = seg_frame(main, east)
        if df.empty:
            continue
        layers.append(
            alt.Chart(df).mark_line(clip=False, **STYLES[key]).encode(
                x=alt.X("lat:Q", scale=XSCALE, axis=xaxis),
                y=alt.Y("cm:Q", scale=YSCALE, axis=yaxis),
                detail="seg:N",
                order="lat:Q",
            )
        )

    # x axis line with upward ticks
    axis_y = H if last else H + 1.1 * PX
    layers.append(
        alt.Chart(pd.DataFrame({"lat": LAT_TICKS})).mark_rule(color=AXIS_COLOR, strokeWidth=2).encode(
            x=alt.X("lat:Q", scale=XSCALE, axis=xaxis), y=alt.value(axis_y), y2=alt.value(axis_y - 6.5))
    )
    layers.append(
        alt.Chart(pd.DataFrame({"lat": LAT_TICKS[:1]})).mark_rule(
            color=AXIS_COLOR, strokeWidth=2).encode(
            x=alt.value(-1), x2=alt.value(W + 1), y=alt.value(axis_y))
    )

    if side == "R":
        # inward (rightward) y ticks, including the bracket ends at +-15
        layers.append(
            alt.Chart(pd.DataFrame({"cm": BRACKET_TICKS})).mark_rule(color=AXIS_COLOR, strokeWidth=2).encode(
                y=alt.Y("cm:Q", scale=YSCALE, axis=yaxis),
                x=alt.value(-Y_AXIS_OFFSET), x2=alt.value(-Y_AXIS_OFFSET + 8.5))
        )
        # date legend
        for i, label in enumerate(DATES[row_idx]):
            layers.append(
                alt.Chart(pd.DataFrame({"label": [label]})).mark_text(
                    align="right", baseline="middle", font=MONO2, fontSize=15, color="#777777").encode(
                    text="label:N", x=alt.value(549.3), y=alt.value(H / 2 + (i - 1) * 19.2))
            )
        if last:
            layers.append(
                alt.Chart(pd.DataFrame({"label": ["cm"]})).mark_text(
                    align="center", baseline="middle", font="DejaVu Sans", fontSize=14,
                    color="#222222").encode(
                    text="label:N", x=alt.value(-Y_AXIS_OFFSET), y=alt.value(H + 10.5))
            )

    return alt.layer(*layers).properties(width=W, height=H)


panels = []
for r in range(len(LEFT)):
    panels.append(panel(LEFT[r], "L", r))
    panels.append(panel(RIGHT[r], "R", r))

chart = (
    alt.concat(*panels, columns=2, spacing={"row": ROW_GAP, "column": COL_GAP}, bounds="flush")
    .properties(padding={"left": 3, "top": 0, "right": 0, "bottom": 0})
    .configure(background="white")
    .configure_view(stroke="transparent", strokeWidth=0)
    .configure_axis(grid=False)
)

chart.save("out.html", embed_options={"renderer": "svg", "actions": False})
